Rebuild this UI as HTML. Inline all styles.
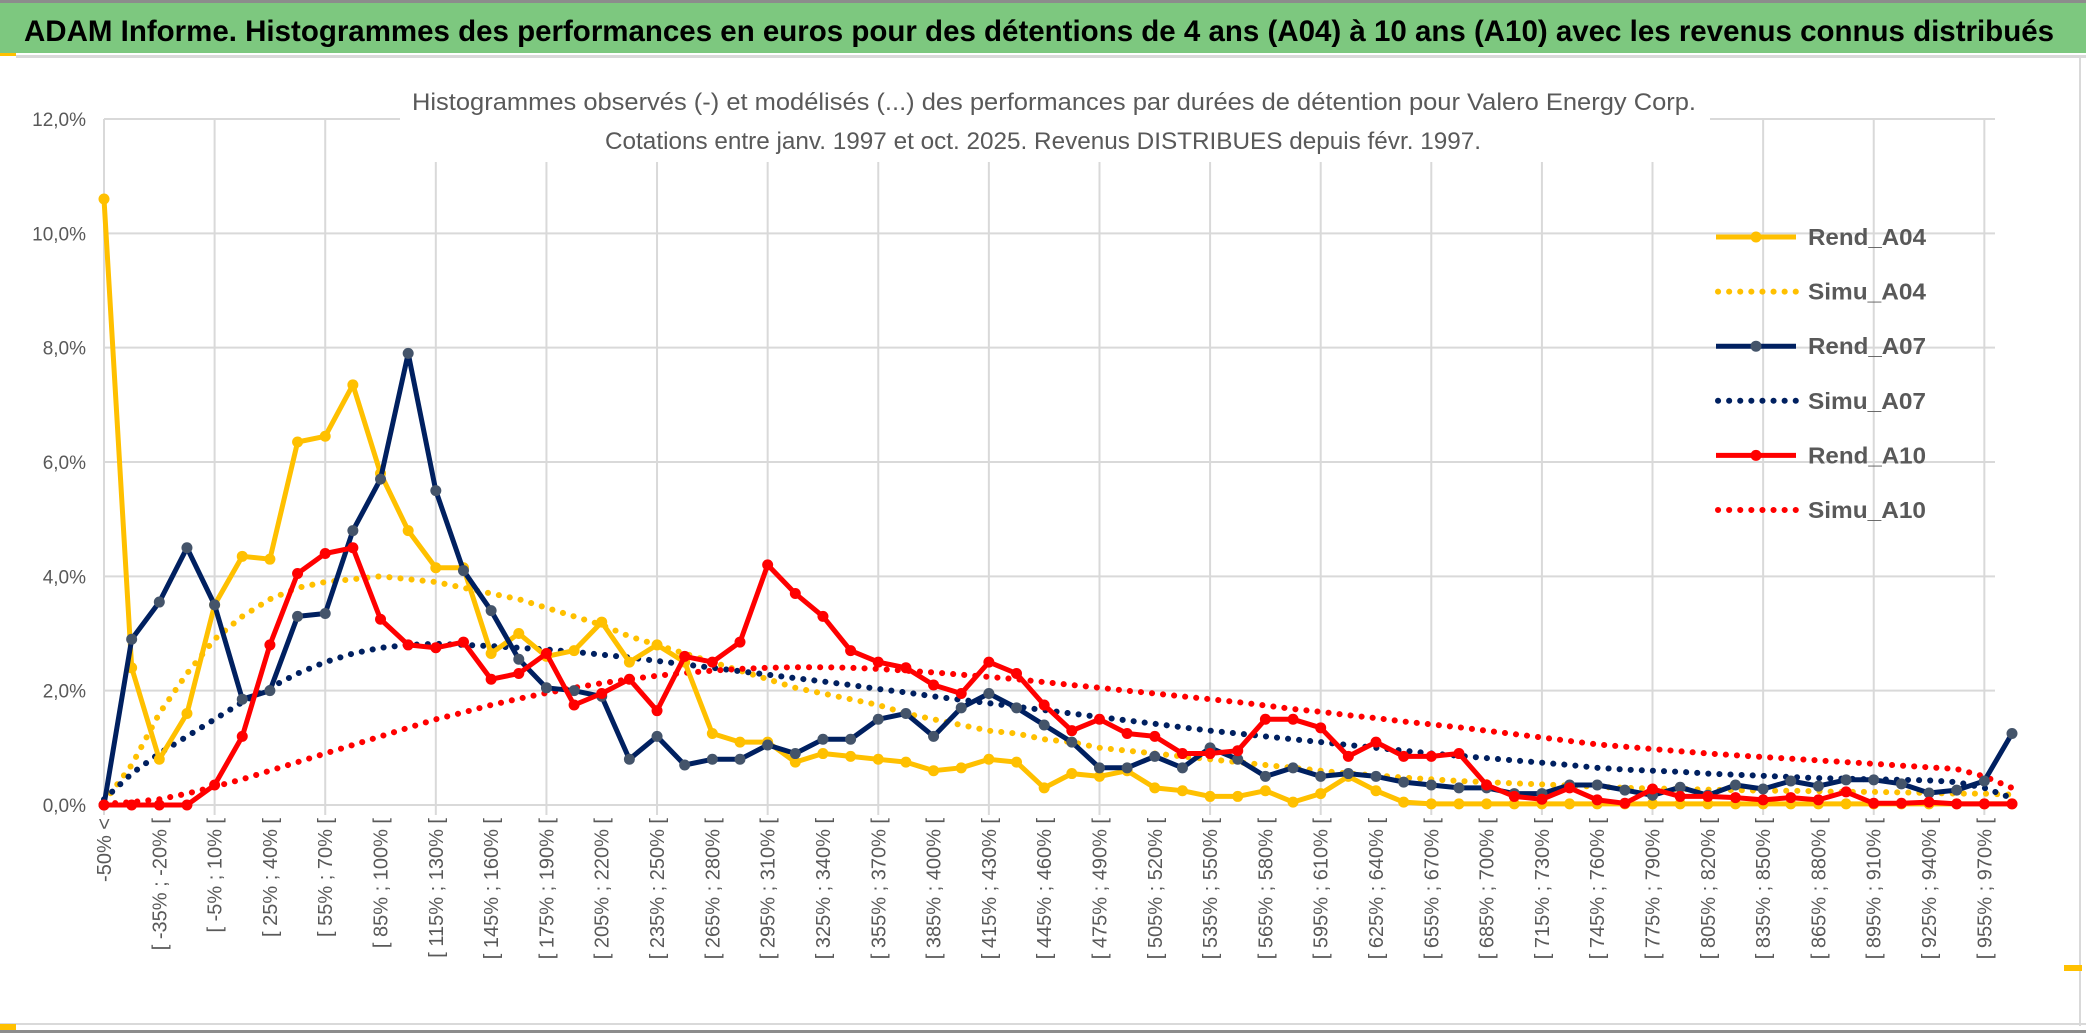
<!DOCTYPE html>
<html><head><meta charset="utf-8"><style>
html,body{margin:0;padding:0;background:#fff;}
svg{display:block;font-family:"Liberation Sans",sans-serif;}
</style></head><body>
<svg id="chart" width="2086" height="1033" viewBox="0 0 2086 1033" xmlns="http://www.w3.org/2000/svg">
<rect x="0" y="0" width="2086" height="1033" fill="#fff"/>
<rect x="0" y="0" width="2086" height="3" fill="#8c8c8c"/>
<rect x="0" y="3" width="2086" height="50" fill="#7dc87f"/>
<rect x="0" y="53" width="16" height="3" fill="#ffc000"/>
<rect x="16" y="55" width="2070" height="3" fill="#d9d9d9"/>
<rect x="0" y="1023" width="2086" height="2" fill="#d9d9d9"/>
<rect x="0" y="1030" width="2086" height="3" fill="#8c8c8c"/>
<rect x="2079" y="56" width="2" height="970" fill="#d9d9d9"/>
<rect x="0" y="1024" width="16" height="6" fill="#ffc000"/>
<rect x="2064" y="965" width="18" height="6" fill="#ffc000"/>
<text x="24" y="41" font-size="30" font-weight="bold" fill="#000" textLength="2030" lengthAdjust="spacingAndGlyphs">ADAM Informe. Histogrammes des performances en euros pour des détentions de 4 ans (A04) à 10 ans (A10) avec les revenus connus distribués</text>
<g id="grid"></g>
<rect x="400" y="82" width="1310" height="80" fill="#fff"/>
<text x="1054" y="110" font-size="24" fill="#595959" text-anchor="middle" textLength="1284" lengthAdjust="spacingAndGlyphs">Histogrammes observés (-) et modélisés (...) des performances par durées de détention pour Valero Energy Corp.</text>
<text x="1043" y="149" font-size="24" fill="#595959" text-anchor="middle" textLength="876" lengthAdjust="spacingAndGlyphs">Cotations entre janv. 1997 et oct. 2025. Revenus DISTRIBUES depuis févr. 1997.</text>
<g id="yticks"></g>
<g id="xticks"></g>
<g id="series"></g>
<g id="legend"></g>
</svg>
<script>
const yTicks = [0, 2, 4, 6, 8, 10, 12];
const rendA04 = [10.6,2.4,0.8,1.6,3.5,4.35,4.3,6.35,6.45,7.35,5.8,4.8,4.15,4.15,2.65,3.0,2.6,2.7,3.2,2.5,2.8,2.5,1.25,1.1,1.1,0.75,0.9,0.85,0.8,0.75,0.6,0.65,0.8,0.75,0.3,0.55,0.5,0.6,0.3,0.25,0.15,0.15,0.25,0.05,0.2,0.5,0.25,0.05,0.02,0.02,0.02,0.02,0.02,0.02,0.02,0.02,0.02,0.02,0.02,0.02,0.02,0.02,0.02,0.02,0.02,0.02,0.02,0.02,0.02,0.02];
const rendA07 = [0,2.9,3.55,4.5,3.5,1.85,2.0,3.3,3.35,4.8,5.7,7.9,5.5,4.1,3.4,2.55,2.05,2.0,1.9,0.8,1.2,0.7,0.8,0.8,1.05,0.9,1.15,1.15,1.5,1.6,1.2,1.7,1.95,1.7,1.4,1.1,0.65,0.65,0.85,0.65,1.0,0.8,0.5,0.65,0.5,0.55,0.5,0.4,0.35,0.3,0.3,0.2,0.2,0.35,0.35,0.26,0.17,0.31,0.17,0.35,0.28,0.42,0.33,0.44,0.44,0.37,0.21,0.26,0.42,1.25];
const rendA10 = [0,0,0,0,0.35,1.2,2.8,4.05,4.4,4.5,3.25,2.8,2.75,2.85,2.2,2.3,2.65,1.75,1.95,2.2,1.65,2.6,2.5,2.85,4.2,3.7,3.3,2.7,2.5,2.4,2.1,1.95,2.5,2.3,1.75,1.3,1.5,1.25,1.2,0.9,0.9,0.95,1.5,1.5,1.35,0.85,1.1,0.85,0.85,0.9,0.35,0.15,0.1,0.3,0.09,0.03,0.28,0.15,0.15,0.13,0.09,0.13,0.09,0.23,0.03,0.03,0.05,0.02,0.02,0.02];
const simuA04 = [0.05,0.7,1.6,2.3,2.9,3.3,3.6,3.8,3.9,3.95,4.0,3.95,3.9,3.8,3.7,3.6,3.45,3.3,3.15,2.95,2.8,2.65,2.5,2.35,2.2,2.05,1.95,1.85,1.75,1.6,1.5,1.4,1.3,1.25,1.15,1.1,1.0,0.95,0.9,0.85,0.8,0.75,0.7,0.65,0.6,0.55,0.52,0.48,0.45,0.42,0.4,0.38,0.36,0.34,0.32,0.3,0.29,0.28,0.27,0.26,0.25,0.25,0.24,0.23,0.23,0.22,0.21,0.2,0.2,0.18];
const simuA07 = [0.1,0.55,0.9,1.2,1.5,1.8,2.05,2.3,2.5,2.65,2.75,2.8,2.82,2.8,2.78,2.75,2.72,2.68,2.63,2.58,2.52,2.46,2.4,2.34,2.28,2.22,2.16,2.1,2.03,1.97,1.9,1.84,1.78,1.72,1.66,1.6,1.54,1.48,1.42,1.36,1.3,1.25,1.2,1.15,1.1,1.05,1.0,0.95,0.9,0.86,0.82,0.78,0.74,0.7,0.65,0.62,0.6,0.58,0.55,0.53,0.51,0.49,0.47,0.46,0.45,0.44,0.43,0.4,0.3,0.12];
const simuA10 = [0.02,0.05,0.1,0.2,0.32,0.45,0.6,0.75,0.9,1.05,1.2,1.35,1.5,1.62,1.75,1.86,1.96,2.05,2.13,2.2,2.26,2.31,2.35,2.38,2.4,2.41,2.41,2.4,2.38,2.35,2.32,2.28,2.24,2.2,2.15,2.1,2.05,2.0,1.95,1.9,1.85,1.8,1.74,1.68,1.63,1.57,1.52,1.46,1.41,1.36,1.3,1.24,1.18,1.12,1.06,1.02,0.98,0.94,0.9,0.87,0.84,0.81,0.78,0.75,0.72,0.69,0.66,0.63,0.5,0.3];
const seriesNames = ["Rend_A04","Simu_A04","Rend_A07","Simu_A07","Rend_A10","Simu_A10"];

const NS = "http://www.w3.org/2000/svg";
const N = rendA04.length;
const X0 = 104, X1 = 2012, Y0 = 805, Y1 = 119;
function xPos(i){ return X0 + (X1 - X0) * i / (N - 1); }
function yPos(v){ return Y0 - (Y0 - Y1) * v / 12; }
function catLabel(i){
  if (i === 0) return "-50% <";
  const a = -50 + 15 * (i - 1);
  return "[ " + a + "% ; " + (a + 15) + "% [";
}
function mk(tag, attrs, parent){
  const e = document.createElementNS(NS, tag);
  for (const k in attrs) e.setAttribute(k, attrs[k]);
  parent.appendChild(e);
  return e;
}
const grid = document.getElementById("grid");
yTicks.forEach(t => {
  const l = mk("line", {x1: X0, x2: 1995, y1: yPos(t), y2: yPos(t), stroke: "#d9d9d9", "stroke-width": 2}, grid);
  
  
});
for (let i = 0; i < N; i += 4) {
  const l = mk("line", {x1: xPos(i), x2: xPos(i), y1: Y1, y2: Y0 + 10, stroke: "#d9d9d9", "stroke-width": 2}, grid);
  
  
}
const yg = document.getElementById("yticks");
yTicks.forEach(t => {
  const tx = mk("text", {x: 86, y: yPos(t) + 7, "font-size": 19, fill: "#595959", "text-anchor": "end"}, yg);
  tx.textContent = t.toFixed(1).replace(".", ",") + "%";
  
  
});
const xg = document.getElementById("xticks");
for (let i = 0; i < N; i += 2) {
  const x = xPos(i) + 7, y = 818;
  const tx = mk("text", {x: x, y: y, "font-size": 20, fill: "#595959", "text-anchor": "end", transform: "rotate(-90 " + x + " " + y + ")"}, xg);
  tx.textContent = catLabel(i);
  
  
}
const sg = document.getElementById("series");
function pts(arr){ return arr.map((v, i) => xPos(i).toFixed(1) + "," + yPos(v).toFixed(1)).join(" "); }
function dotted(arr, color, name){
  const p = mk("polyline", {points: pts(arr), fill: "none", stroke: color, "stroke-width": 6, "stroke-linecap": "round", "stroke-dasharray": "0.1 11"}, sg);
  
  
}
function solid(arr, color, mcolor, name){
  const p = mk("polyline", {points: pts(arr), fill: "none", stroke: color, "stroke-width": 5, "stroke-linejoin": "round"}, sg);
  
  
  arr.forEach((v, i) => {
    const c = mk("circle", {cx: xPos(i), cy: yPos(v), r: 5.5, fill: mcolor}, sg);
    
    
  });
}
dotted(simuA04, "#ffc000", "simu-a04-line");
dotted(simuA07, "#002060", "simu-a07-line");
dotted(simuA10, "#ff0000", "simu-a10-line");
solid(rendA04, "#ffc000", "#ffc000", "rend-a04-line");
solid(rendA07, "#002060", "#44546a", "rend-a07-line");
solid(rendA10, "#ff0000", "#ff0000", "rend-a10-line");

const lg = document.getElementById("legend");
const legColors = ["#ffc000","#ffc000","#002060","#002060","#ff0000","#ff0000"];
seriesNames.forEach((nm, k) => {
  const y = 237 + k * 54.6;
  const g = mk("g", {}, lg);
  
  
  if (k % 2 === 0) {
    mk("line", {x1: 1716, x2: 1796, y1: y, y2: y, stroke: legColors[k], "stroke-width": 5}, g);
    mk("circle", {cx: 1756, cy: y, r: 5.5, fill: k === 2 ? "#44546a" : legColors[k]}, g);
  } else {
    mk("line", {x1: 1718, x2: 1796, y1: y, y2: y, stroke: legColors[k], "stroke-width": 6, "stroke-linecap": "round", "stroke-dasharray": "0.1 11"}, g);
  }
  const t = mk("text", {x: 1808, y: y + 8, "font-size": 23, "font-weight": "bold", fill: "#595959", textLength: 118, lengthAdjust: "spacingAndGlyphs"}, g);
  t.textContent = nm;
});
</script>
</body></html>
